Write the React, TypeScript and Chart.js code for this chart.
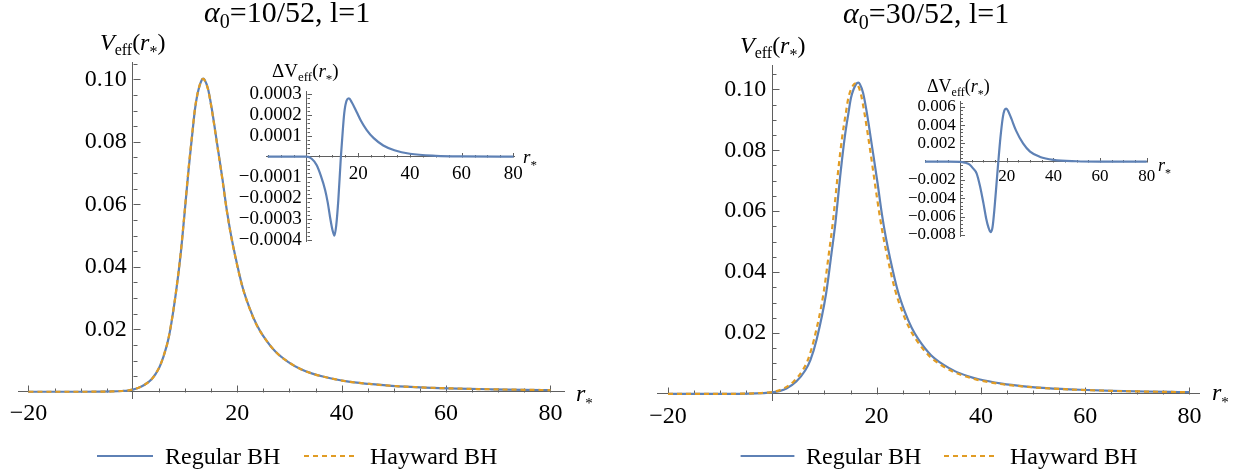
import React, { useEffect, useRef } from "react";
import { Chart, registerables } from "chart.js";

Chart.register(...registerables);

// ---------------- data ----------------
const seriesNames = ["Regular BH", "Hayward BH"];

// Left panel, alpha0 = 10/52
const leftRegX = [-20, -15, -10, -6, -4, -2, -1, 0, 1, 2, 3.6, 5.0, 5.8, 6.9, 8.3, 9.2, 9.8, 10.7, 11.4, 11.9, 12.4, 13.2, 13.5, 13.8, 14.4, 15.1, 16.2, 17.2, 18.0, 18.8, 19.6, 21.0, 22.4, 23.7, 25.0, 27.4, 29.8, 32.1, 34.4, 36.6, 41.0, 45.3, 49.6, 56.0, 62.3, 68.6, 74.8, 80];
const leftRegV = [0, 0, 0.000004, 0.00003, 0.00009, 0.00024, 0.00038, 0.0007, 0.0012, 0.002, 0.004, 0.0075, 0.0109, 0.0175, 0.0322, 0.0446, 0.0551, 0.0714, 0.0827, 0.0904, 0.0954, 0.0998, 0.1002, 0.0997, 0.097, 0.0908, 0.0788, 0.0677, 0.0581, 0.0502, 0.0436, 0.0336, 0.0266, 0.0215, 0.0178, 0.0127, 0.0095, 0.0073, 0.0058, 0.0048, 0.0033, 0.0025, 0.0019, 0.00135, 0.00101, 0.00079, 0.00063, 0.00053];
const leftHayX = [-20, -15, -10, -6, -4, -2, -1, 0, 1, 2, 3.6, 5.0, 5.8, 6.9, 8.3, 9.2, 9.8, 10.7, 11.4, 11.9, 12.4, 13.2, 13.5, 13.8, 14.4, 15.1, 16.2, 17.2, 18.0, 18.8, 19.6, 21.0, 22.4, 23.7, 25.0, 27.4, 29.8, 32.1, 34.4, 36.6, 41.0, 45.3, 49.6, 56.0, 62.3, 68.6, 74.8, 80];
const leftHayV = [0, 0, 0.000004, 0.00003, 0.00009, 0.00024, 0.00038, 0.0007, 0.0012, 0.002, 0.004, 0.0076, 0.011, 0.0177, 0.0324, 0.0449, 0.0554, 0.0718, 0.083, 0.0906, 0.0955, 0.0998, 0.1001, 0.0995, 0.0968, 0.0905, 0.0785, 0.0674, 0.0579, 0.05, 0.0434, 0.0335, 0.0265, 0.0214, 0.0178, 0.0127, 0.0095, 0.0073, 0.0058, 0.0048, 0.0033, 0.0025, 0.0019, 0.00135, 0.00101, 0.00079, 0.00063, 0.00053];

const leftDeltaX = [-15, -5, 0, 2, 3.9, 5.5, 7.2, 8.2, 9.1, 10.0, 10.8, 11.5, 12.3, 13.3, 14.0, 14.6, 15.5, 16.4, 17.5, 19.4, 21.0, 23.3, 26.0, 29.7, 34.0, 40.0, 50.0, 60.0, 80.0];
const leftDeltaV = [0, 0, 0, -0.00001, -0.00004, -0.00009, -0.00016, -0.00022, -0.00029, -0.00035, -0.00038, -0.00033, -0.00021, 0, 0.00012, 0.00021, 0.00027, 0.00028, 0.000262, 0.000215, 0.000174, 0.000128, 0.000089, 0.000054, 0.000031, 0.000014, 0.000004, 0.000001, 0];

// Right panel, alpha0 = 30/52
const rightRegX = [-20, -12, -7, -4.5, -2, 0, 1.5, 2.7, 4.6, 6.3, 7.3, 8.5, 10.3, 11.3, 12.1, 13.1, 13.9, 14.6, 15.1, 16.1, 16.5, 16.8, 17.4, 18.1, 19.2, 20.2, 21.0, 21.8, 22.6, 24.0, 25.4, 26.7, 28.0, 30.4, 32.8, 35.1, 37.4, 39.6, 44.0, 48.3, 52.6, 59.0, 65.3, 71.6, 77.8, 80];
const rightRegV = [0, 0.000005, 0.00004, 0.0001, 0.00025, 0.0005, 0.001, 0.0018, 0.0041, 0.0077, 0.0111, 0.0179, 0.0328, 0.0455, 0.0562, 0.0728, 0.0844, 0.0922, 0.0973, 0.1018, 0.1022, 0.1017, 0.0989, 0.0926, 0.0804, 0.069, 0.0592, 0.0511, 0.0444, 0.0342, 0.027, 0.0218, 0.018, 0.0128, 0.0096, 0.0074, 0.0059, 0.0048, 0.0034, 0.0025, 0.0019, 0.00136, 0.00102, 0.00079, 0.00063, 0.00058];
const rightHayX = [-20, -12.5, -7.5, -5, -2.5, -0.5, 1.0, 2.2, 4.1, 5.8, 6.8, 8.0, 9.8, 10.8, 11.6, 12.6, 13.4, 14.1, 14.6, 15.6, 16.0, 16.35, 16.95, 17.65, 18.75, 19.7, 20.55, 21.35, 22.15, 23.55, 24.95, 26.25, 27.55, 29.95, 32.35, 34.65, 36.95, 39.15, 43.55, 47.85, 52.15, 58.55, 64.85, 71.15, 77.35, 80];
const rightHayV = [0, 0.000005, 0.00004, 0.0001, 0.00025, 0.0005, 0.001, 0.0018, 0.0041, 0.0077, 0.0111, 0.0179, 0.0328, 0.0455, 0.0562, 0.0728, 0.0844, 0.0922, 0.0973, 0.1016, 0.102, 0.1015, 0.0987, 0.0924, 0.0802, 0.0688, 0.059, 0.051, 0.0443, 0.0341, 0.0269, 0.0217, 0.0179, 0.0127, 0.0095, 0.0073, 0.0058, 0.0047, 0.0033, 0.0025, 0.0019, 0.00135, 0.00101, 0.00078, 0.00062, 0.00056];

const rightDeltaX = [-15, -5, 0, 2, 4, 5.5, 7.1, 8.5, 10.0, 11.2, 12.2, 13.1, 13.9, 14.8, 15.6, 16.4, 17.3, 18.3, 19.0, 19.7, 20.5, 21.2, 22.0, 24.0, 27.0, 30.0, 34.3, 40.0, 50.0, 60.0, 80.0];
const rightDeltaV = [0, 0, -0.00002, -0.0001, -0.0003, -0.0007, -0.00127, -0.0026, -0.0045, -0.0062, -0.0072, -0.0077, -0.0072, -0.005, -0.0025, 0, 0.0026, 0.0048, 0.0056, 0.0058, 0.0056, 0.0052, 0.0047, 0.0034, 0.002, 0.0011, 0.00052, 0.0002, 0.00005, 0.00001, 0];

// tick labels
const mainXTicks = [-20, 20, 40, 60, 80];
const mainYTicks = [0.02, 0.04, 0.06, 0.08, 0.1];
const insetXTicks = [20, 40, 60, 80];
const insetLeftYTicks = [-0.0004, -0.0003, -0.0002, -0.0001, 0.0001, 0.0002, 0.0003];
const insetRightYTicks = [-0.008, -0.006, -0.004, -0.002, 0.002, 0.004, 0.006];

// ---------------- styling ----------------
let FONT = '"Liberation Serif", "Times New Roman", serif';
const BLUE = "#5E81B5";
const ORANGE = "#E19C24";
const AXIS = "#5f5f5f";
const DASH = [5, 4];

function pickFont(): string {
  const cands = ["Liberation Serif", "Tinos", "Times New Roman", "Nimbus Roman", "Nimbus Roman No9 L", "FreeSerif", "DejaVu Serif", "Noto Serif"];
  const c = document.createElement("canvas").getContext("2d");
  if (!c) return FONT;
  const test = "Regular BH 0.0123456789 Hayward";
  c.font = "40px monospace";
  const wm = c.measureText(test).width;
  for (const f of cands) {
    c.font = `40px "${f}", monospace`;
    const a = c.measureText(test).width;
    c.font = `40px "${f}", sans-serif`;
    const b = c.measureText(test).width;
    if (Math.abs(a - b) < 0.01 && Math.abs(a - wm) > 0.5) return `"${f}", serif`;
  }
  return "serif";
}

type Seg = { t: string; size: number; italic?: boolean; dy?: number };
type TextItem = { x: number; y: number; segs: Seg[] };
type LegendItem = { x1: number; x2: number; tx: number; label: string; color: string; dash: number[] };

function drawRich(ctx: CanvasRenderingContext2D, x: number, y: number, segs: Seg[]) {
  ctx.save();
  ctx.fillStyle = "#000";
  ctx.textAlign = "left";
  ctx.textBaseline = "alphabetic";
  let cx = x;
  for (const s of segs) {
    ctx.font = `${s.italic ? "italic " : ""}${s.size}px ${FONT}`;
    ctx.fillText(s.t, cx, y + (s.dy || 0));
    cx += ctx.measureText(s.t).width;
  }
  ctx.restore();
}

const fmt = (v: number, d: number) => (v < -1e-12 ? "\u2212" : "") + Math.abs(v).toFixed(d);

interface Series { xs: number[]; ys: number[]; color: string; dash?: number[]; order: number }
interface MinorSpec {
  xFrom: number; xTo: number; xStep: number; xMajor: number;
  yFrom: number; yTo: number; yStep: number; yMajor: number;
  majorLen: number; minorLen: number;
}
interface PlotSpec {
  padding: { left: number; right: number; top: number; bottom: number };
  xMin: number; xMax: number; yMin: number; yMax: number;
  xTicks: number[]; yTicks: number[]; xDigits: number; yDigits: number;
  fontSize: number; xLabelPad: number; ySuffix: string;
  series: Series[];
  minor: MinorSpec;
  texts: TextItem[];
  legend?: { y: number; base: number; size: number; items: LegendItem[] };
}

function makeChart(canvas: HTMLCanvasElement, spec: PlotSpec) {
  const minorPlugin = {
    id: "minorTicks",
    beforeDatasetsDraw(chart: any) {
      const ctx: CanvasRenderingContext2D = chart.ctx;
      const xs = chart.scales.x;
      const ys = chart.scales.y;
      const m = spec.minor;
      const x0 = Math.round(xs.getPixelForValue(0)) + 0.5;
      const y0 = Math.round(ys.getPixelForValue(0)) + 0.5;
      ctx.save();
      ctx.strokeStyle = AXIS;
      ctx.lineWidth = 1;
      ctx.beginPath();
      const nx = Math.round((m.xTo - m.xFrom) / m.xStep);
      for (let i = 0; i <= nx; i++) {
        const v = m.xFrom + i * m.xStep;
        if (Math.abs(v) < 1e-9) continue;
        const r = v / m.xMajor;
        const major = Math.abs(r - Math.round(r)) < 1e-6;
        const len = major ? m.majorLen : m.minorLen;
        const px = Math.round(xs.getPixelForValue(v)) + 0.5;
        ctx.moveTo(px, y0);
        ctx.lineTo(px, y0 - len);
      }
      const ny = Math.round((m.yTo - m.yFrom) / m.yStep);
      for (let i = 0; i <= ny; i++) {
        const v = m.yFrom + i * m.yStep;
        if (Math.abs(v) < m.yStep * 1e-3) continue;
        const r = v / m.yMajor;
        const major = Math.abs(r - Math.round(r)) < 1e-6;
        const len = major ? m.majorLen : m.minorLen;
        const py = Math.round(ys.getPixelForValue(v)) + 0.5;
        ctx.moveTo(x0, py);
        ctx.lineTo(x0 + len, py);
      }
      ctx.stroke();
      ctx.restore();
    },
  };
  const textPlugin = {
    id: "texts",
    afterDraw(chart: any) {
      const ctx: CanvasRenderingContext2D = chart.ctx;
      for (const t of spec.texts) drawRich(ctx, t.x, t.y, t.segs);
      if (spec.legend) {
        const L = spec.legend;
        for (const it of L.items) {
          ctx.save();
          ctx.strokeStyle = it.color;
          ctx.lineWidth = 2;
          ctx.setLineDash(it.dash);
          ctx.beginPath();
          ctx.moveTo(it.x1, L.y);
          ctx.lineTo(it.x2, L.y);
          ctx.stroke();
          ctx.restore();
          drawRich(ctx, it.tx, L.base, [{ t: it.label, size: L.size }]);
        }
      }
    },
  };

  return new Chart(canvas, {
    type: "line",
    data: {
      datasets: spec.series.map((s) => ({
        data: s.xs.map((x, i) => ({ x, y: s.ys[i] })),
        borderColor: s.color,
        borderWidth: 2.2,
        borderDash: s.dash || [],
        pointRadius: 0,
        fill: false,
        order: s.order,
        cubicInterpolationMode: "monotone",
        borderCapStyle: "butt",
        borderJoinStyle: "round",
      })),
    },
    options: {
      animation: false,
      responsive: false,
      devicePixelRatio: 1,
      events: [],
      layout: { padding: spec.padding },
      plugins: { legend: { display: false }, tooltip: { enabled: false } },
      scales: {
        x: {
          type: "linear",
          min: spec.xMin,
          max: spec.xMax,
          position: { y: 0 },
          grid: { display: false, drawTicks: false },
          border: { display: true, color: AXIS, width: 1 },
          afterBuildTicks: (sc: any) => {
            sc.ticks = spec.xTicks.map((v) => ({ value: v }));
          },
          ticks: {
            autoSkip: false,
            maxRotation: 0,
            padding: spec.xLabelPad,
            color: "#000",
            font: { family: FONT, size: spec.fontSize },
            callback: (v: any) => fmt(Number(v), spec.xDigits),
          },
        },
        y: {
          type: "linear",
          min: spec.yMin,
          max: spec.yMax,
          position: { x: 0 },
          grid: { display: false, drawTicks: false },
          border: { display: true, color: AXIS, width: 1 },
          afterBuildTicks: (sc: any) => {
            sc.ticks = spec.yTicks.map((v) => ({ value: v }));
          },
          ticks: {
            autoSkip: false,
            padding: 3,
            color: "#000",
            font: { family: FONT, size: spec.fontSize },
            callback: (v: any) => fmt(Number(v), spec.yDigits) + spec.ySuffix,
          },
        },
      },
    } as any,
    plugins: [minorPlugin, textPlugin],
  });
}

const vLabel = (size: number, sub: number, dy: number): Seg[] => [
  { t: "V", size, italic: true },
  { t: "eff", size: sub, dy },
  { t: "(", size },
  { t: "r", size, italic: true },
  { t: "*", size: sub, dy: dy + 2 },
  { t: ")", size },
];
const dvLabel = (size: number, sub: number, dy: number): Seg[] => [
  { t: "\u0394V", size },
  { t: "eff", size: sub, dy },
  { t: "(", size },
  { t: "r", size, italic: true },
  { t: "*", size: sub, dy: dy + 2 },
  { t: ")", size },
];
const rLabel = (size: number, sub: number, dy: number): Seg[] => [
  { t: "r", size, italic: true },
  { t: "*", size: sub, dy },
];
const title = (a: string): Seg[] => [
  { t: "\u03B1", size: 30, italic: true },
  { t: "0", size: 20, dy: 6 },
  { t: `=${a}, l=1`, size: 30 },
];

function buildSpecs(): PlotSpec[] {
  return [
    // left main
    {
      padding: { left: 18, right: 57, top: 62.1, bottom: 76 },
      xMin: -22, xMax: 82.6, yMin: -0.002, yMax: 0.1055,
      xTicks: mainXTicks, yTicks: mainYTicks, xDigits: 0, yDigits: 2,
      fontSize: 24, xLabelPad: 8, ySuffix: " ",
      series: [
        { xs: leftRegX, ys: leftRegV, color: BLUE, order: 2 },
        { xs: leftHayX, ys: leftHayV, color: ORANGE, dash: DASH, order: 1 },
      ],
      minor: { xFrom: -20, xTo: 80, xStep: 5, xMajor: 20, yFrom: 0.005, yTo: 0.105, yStep: 0.005, yMajor: 0.02, majorLen: 7, minorLen: 4 },
      texts: [
        { x: 204, y: 22, segs: title("10/52") },
        { x: 100, y: 50, segs: vLabel(24, 16, 5) },
        { x: 576, y: 401, segs: rLabel(24, 15, 7) },
      ],
      legend: {
        y: 456, base: 464, size: 24,
        items: [
          { x1: 97, x2: 153, tx: 165, label: seriesNames[0], color: BLUE, dash: [] },
          { x1: 304, x2: 354, tx: 370, label: seriesNames[1], color: ORANGE, dash: DASH },
        ],
      },
    },
    // right main
    {
      padding: { left: 36.6, right: 42.1, top: 65, bottom: 74 },
      xMin: -22, xMax: 82, yMin: -0.002, yMax: 0.108,
      xTicks: mainXTicks, yTicks: mainYTicks, xDigits: 0, yDigits: 2,
      fontSize: 24, xLabelPad: 8, ySuffix: " ",
      series: [
        { xs: rightRegX, ys: rightRegV, color: BLUE, order: 2 },
        { xs: rightHayX, ys: rightHayV, color: ORANGE, dash: DASH, order: 1 },
      ],
      minor: { xFrom: -20, xTo: 80, xStep: 5, xMajor: 20, yFrom: 0.005, yTo: 0.105, yStep: 0.005, yMajor: 0.02, majorLen: 7, minorLen: 4 },
      texts: [
        { x: 222, y: 23, segs: title("30/52") },
        { x: 119, y: 53, segs: vLabel(24, 16, 5) },
        { x: 591, y: 400, segs: rLabel(24, 15, 7) },
      ],
      legend: {
        y: 456, base: 464, size: 24,
        items: [
          { x1: 119.6, x2: 173.4, tx: 185, label: seriesNames[0], color: BLUE, dash: [] },
          { x1: 323, x2: 373, tx: 389, label: seriesNames[1], color: ORANGE, dash: DASH },
        ],
      },
    },
    // left inset
    {
      padding: { left: 66.7, right: 45.4, top: 51.7, bottom: 18.3 },
      xMin: -15.4, xMax: 80.5, yMin: -0.000409, yMax: 0.0003125,
      xTicks: insetXTicks, yTicks: insetLeftYTicks, xDigits: 0, yDigits: 4,
      fontSize: 19, xLabelPad: 6, ySuffix: " ",
      series: [{ xs: leftDeltaX, ys: leftDeltaV, color: BLUE, order: 1 }],
      minor: { xFrom: -15, xTo: 80, xStep: 5, xMajor: 20, yFrom: -0.0004, yTo: 0.0003, yStep: 0.00002, yMajor: 0.0001, majorLen: 4.5, minorLen: 2.5 },
      texts: [
        { x: 72, y: 37, segs: dvLabel(19, 13, 4) },
        { x: 323, y: 123, segs: rLabel(19, 13, 6) },
      ],
    },
    // right inset
    {
      padding: { left: 105, right: 52.5, top: 41.7, bottom: 23.3 },
      xMin: -15, xMax: 80.3, yMin: -0.0082, yMax: 0.00656,
      xTicks: insetXTicks, yTicks: insetRightYTicks, xDigits: 0, yDigits: 3,
      fontSize: 17, xLabelPad: 5, ySuffix: " ",
      series: [{ xs: rightDeltaX, ys: rightDeltaV, color: BLUE, order: 1 }],
      minor: { xFrom: -15, xTo: 80, xStep: 5, xMajor: 20, yFrom: -0.008, yTo: 0.0064, yStep: 0.0004, yMajor: 0.002, majorLen: 4.5, minorLen: 2.5 },
      texts: [
        { x: 107, y: 31.5, segs: dvLabel(18, 12, 4) },
        { x: 338, y: 111, segs: rLabel(18, 12, 6) },
      ],
    },
  ];
}

const layoutBoxes = [
  { left: 0, top: 0, w: 621, h: 474 },
  { left: 621, top: 0, w: 621, h: 474 },
  { left: 200, top: 40, w: 360, h: 220 },
  { left: 820, top: 60, w: 380, h: 200 },
];

export default function App() {
  const r0 = useRef<HTMLCanvasElement>(null);
  const r1 = useRef<HTMLCanvasElement>(null);
  const r2 = useRef<HTMLCanvasElement>(null);
  const r3 = useRef<HTMLCanvasElement>(null);
  useEffect(() => {
    FONT = pickFont();
    const refs = [r0, r1, r2, r3];
    const specs = buildSpecs();
    const charts = specs.map((s, i) => makeChart(refs[i].current as HTMLCanvasElement, s));
    let alive = true;
    if ((document as any).fonts && (document as any).fonts.ready) {
      (document as any).fonts.ready.then(() => {
        if (alive) charts.forEach((c) => c.update());
      });
    }
    return () => {
      alive = false;
      charts.forEach((c) => c.destroy());
    };
  }, []);
  const refs = [r0, r1, r2, r3];
  return (
    <div style={{ position: "fixed", left: 0, top: 0, width: 1242, height: 474, background: "#fff", overflow: "hidden" }}>
      {layoutBoxes.map((s, i) => (
        <canvas
          key={i}
          ref={refs[i]}
          width={s.w}
          height={s.h}
          style={{ position: "absolute", left: s.left, top: s.top, width: s.w, height: s.h }}
        />
      ))}
    </div>
  );
}
